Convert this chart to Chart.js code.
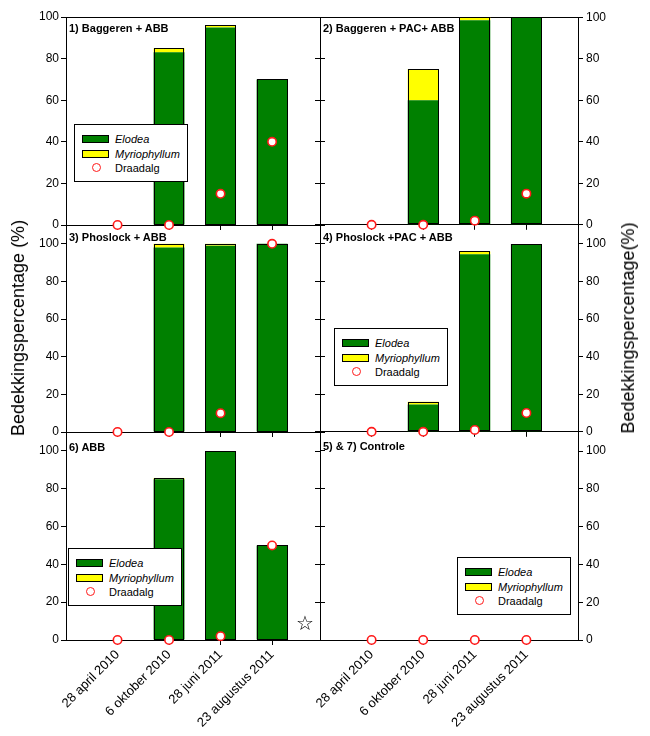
<!DOCTYPE html>
<html>
<head>
<meta charset="utf-8">
<script src="https://cdn.jsdelivr.net/npm/chart.js@4.4.1/dist/chart.umd.min.js"></script>
<style>
html, body { margin:0; padding:0; background:#fff; }
body { width:650px; height:736px; position:relative; overflow:hidden; font-family:"Liberation Sans", Arial, sans-serif; }
canvas { position:absolute; }
.ptitle { position:absolute; font-weight:bold; font-size:11px; line-height:12px; color:#000; white-space:nowrap; }
.legend { position:absolute; border:1px solid #000; background:#fff; box-sizing:border-box; }
.legend .sw { position:absolute; width:27px; height:8px; border:1px solid #000; box-sizing:border-box; }
.legend .dot { position:absolute; width:9px; height:9px; border-radius:50%; border:1.5px solid; box-sizing:border-box; background:#fff; }
.legend .lt { position:absolute; font-size:11px; line-height:12px; color:#000; white-space:nowrap; }
.ytitle { position:absolute; font-size:18px; line-height:20px; color:#000; white-space:nowrap; transform:translate(-50%,-50%) rotate(-90deg); }
.star { position:absolute; font-family:"DejaVu Sans"; font-size:20px; line-height:20px; color:#000; transform:translate(-50%,-50%); }
</style>
</head>
<body>
<script>
// ---------------- data ----------------
const dates = ["28 april 2010", "6 oktober 2010", "28 juni 2011", "23 augustus 2011"];
const xPos = [1, 2, 3, 4];
const yTicks = [0, 20, 40, 60, 80, 100];
const seriesNames = ["Elodea", "Myriophyllum", "Draadalg"];

const title1 = "1) Baggeren + ABB";
const elodea1 = [0, 83, 95, 70];
const myrio1  = [0, 2, 1, 0];
const draad1  = [0, 0, 15, 40];

const title2 = "2) Baggeren + PAC+ ABB";
const elodea2 = [0, 60, 98.5, 100];
const myrio2  = [0, 15, 1.5, 0];
const draad2  = [0, 0, 2, 15];

const title3 = "3) Phoslock + ABB";
const elodea3 = [0, 98, 99, 100];
const myrio3  = [0, 2, 1, 0];
const draad3  = [0, 0, 10, 100];

const title4 = "4) Phoslock +PAC + ABB";
const elodea4 = [0, 14.5, 94.5, 100];
const myrio4  = [0, 1.5, 1.5, 0];
const draad4  = [0, 0, 1, 10];

const title6 = "6) ABB";
const elodea6 = [0, 85, 100, 50];
const myrio6  = [0, 0.7, 0, 0];
const draad6  = [0, 0, 2, 50];

const title57 = "5) & 7) Controle";
const elodea57 = [0, 0, 0, 0];
const myrio57  = [0, 0, 0, 0];
const draad57  = [0, 0, 0, 0];

const yMaxByRow = [100, 110, 110];
const yTitleLeft = "Bedekkingspercentage (%)";
const yTitleRight = "Bedekkingspercentage(%)";

// ---------------- styles ----------------
const GREEN = "#008000";
const YELLOW = "#FFFF00";
const RED = "#FF1A1A";
const FAMILY = "'Liberation Sans', Arial, sans-serif";

const panels = [
  { col:0, row:0, title:title1,  el:elodea1,  my:myrio1,  dr:draad1,  legend:[74,124],  tOff:11 },
  { col:1, row:0, title:title2,  el:elodea2,  my:myrio2,  dr:draad2,  legend:null,      tOff:11 },
  { col:0, row:1, title:title3,  el:elodea3,  my:myrio3,  dr:draad3,  legend:null,      tOff:11.5 },
  { col:1, row:1, title:title4,  el:elodea4,  my:myrio4,  dr:draad4,  legend:[334,328], tOff:11.5 },
  { col:0, row:2, title:title6,  el:elodea6,  my:myrio6,  dr:draad6,  legend:[68,548],  tOff:14.5 },
  { col:1, row:2, title:title57, el:elodea57, my:myrio57, dr:draad57, legend:[457,557], tOff:14 }
];

const rowTop    = [17, 225, 432];
const rowBottom = [225, 432, 640];
const colLeft   = [66, 320];
const colRight  = [320, 578];

// crisp black outline around each bar stack, from the bar elements laid out by Chart.js,
// drawn just before the Draadalg points so the points stay on top
const crispStackBorders = {
  id: 'crispStackBorders',
  beforeDatasetDraw(chart, args) {
    if (args.meta.type !== 'scatter') return;
    const barMetas = chart.getSortedVisibleDatasetMetas().filter(m => m.type === 'bar');
    if (!barMetas.length) return;
    const n = barMetas[0].data.length;
    const ctx = chart.ctx;
    ctx.save();
    ctx.strokeStyle = '#000';
    ctx.lineWidth = 1;
    for (let i = 0; i < n; i++) {
      let top = Infinity, bottom = -Infinity, cx = 0, w = 0;
      barMetas.forEach(m => {
        const el = m.data[i];
        if (!el) return;
        const { x, y, base, width } = el.getProps(['x', 'y', 'base', 'width'], true);
        if (Math.abs(base - y) < 0.01) return;
        top = Math.min(top, y, base);
        bottom = Math.max(bottom, y, base);
        cx = x; w = width;
      });
      if (!(bottom - top >= 0.5)) continue;
      const l = Math.round(cx - w / 2) + 0.5;
      const r = Math.round(cx + w / 2) - 0.5;
      const t = Math.round(top) + 0.5;
      const b = Math.round(bottom) - 0.5;
      ctx.strokeRect(l, t, r - l, b - t);
    }
    ctx.restore();
  }
};

function makeChart(p) {
  const canvasLeft = p.col === 0 ? 0 : 310;
  const canvasWidth = p.col === 0 ? 330 : 340;
  const canvasTop = rowTop[p.row] - 10;
  const bottomH = p.row === 2 ? 736 - rowBottom[p.row] : 10;
  const canvasHeight = 10 + (rowBottom[p.row] - rowTop[p.row]) + bottomH;
  const leftW = colLeft[p.col] - canvasLeft;
  const rightW = canvasLeft + canvasWidth - colRight[p.col];
  const xMax = p.col === 0 ? 4.93 : 5;
  const yMax = yMaxByRow[p.row];

  const c = document.createElement('canvas');
  c.width = canvasWidth; c.height = canvasHeight;
  c.style.left = canvasLeft + 'px'; c.style.top = canvasTop + 'px';
  c.style.width = canvasWidth + 'px'; c.style.height = canvasHeight + 'px';
  document.body.appendChild(c);

  const gridOpts = { display:true, drawOnChartArea:false, drawTicks:true, tickLength:5, color:'#000', lineWidth:1, offset:false };
  const borderOpts = { display:true, color:'#000', width:1 };
  const tickFont = { family: FAMILY, size: 12 };

  new Chart(c, {
    type: 'bar',
    plugins: [crispStackBorders],
    data: {
      datasets: [
        { type:'scatter', label:seriesNames[2], data: xPos.map((x,i)=>({x:x, y:p.dr[i]})),
          pointStyle:'circle', pointRadius:4.2, pointBorderWidth:1.6,
          pointBackgroundColor:'#fff', pointBorderColor:RED, clip:false, order:0 },
        { label:seriesNames[0], data: xPos.map((x,i)=>({x:x, y:p.el[i]})),
          backgroundColor:GREEN, borderWidth:0, inflateAmount:0,
          barPercentage:1, categoryPercentage:0.6, order:1 },
        { label:seriesNames[1], data: xPos.map((x,i)=>({x:x, y:p.my[i]})),
          backgroundColor:YELLOW, borderWidth:0, inflateAmount:0,
          barPercentage:1, categoryPercentage:0.6, order:1 }
      ]
    },
    options: {
      responsive:false, animation:false, events:[],
      devicePixelRatio:1,
      layout:{ padding:0 },
      plugins:{ legend:{display:false}, tooltip:{enabled:false}, title:{display:false} },
      scales:{
        x:{ type:'linear', position:'bottom', min:0, max:xMax, stacked:true, offset:false,
            afterBuildTicks:s=>{ s.ticks = xPos.map(v=>({value:v})); },
            afterFit:s=>{ s.height = bottomH; },
            grid:gridOpts, border:borderOpts,
            ticks:{ display:p.row===2, autoSkip:false, minRotation:45, maxRotation:45,
                    font:{family:FAMILY, size:13}, color:'#000', padding:2,
                    callback:(v,i)=>dates[i] } },
        x2:{ type:'linear', position:'top', min:0, max:xMax, offset:false,
             afterFit:s=>{ s.height = 10; },
             grid:{display:false, offset:false}, border:{display:p.row===0, color:'#000', width:1},
             ticks:{display:false} },
        y:{ type:'linear', position:'left', min:0, max:yMax, stacked:true,
            afterBuildTicks:s=>{ s.ticks = yTicks.map(v=>({value:v})); },
            afterFit:s=>{ s.width = leftW; },
            grid:gridOpts, border:borderOpts,
            ticks:{ display:p.col===0, font:tickFont, color:'#000', padding:2 } },
        y2:{ type:'linear', position:'right', min:0, max:yMax,
             afterBuildTicks:s=>{ s.ticks = yTicks.map(v=>({value:v})); },
             afterFit:s=>{ s.width = rightW; },
             grid:gridOpts, border:borderOpts,
             ticks:{ display:p.col===1, font:tickFont, color:'#000', padding:3 } }
      }
    }
  });
}

[4,5,2,3,0,1].forEach(i => makeChart(panels[i]));

panels.forEach(p => {
  const d = document.createElement('div');
  d.className = 'ptitle';
  d.textContent = p.title;
  d.style.left = (colLeft[p.col] + 3) + 'px';
  d.style.top = (rowTop[p.row] + p.tOff - 6) + 'px';
  document.body.appendChild(d);
});

panels.forEach(p => {
  if (!p.legend) return;
  const box = document.createElement('div');
  box.className = 'legend';
  box.style.left = p.legend[0] + 'px';
  box.style.top = p.legend[1] + 'px';
  box.style.width = '114px';
  box.style.height = '58px';
  const rows = [14, 29, 43];
  const swCols = [GREEN, YELLOW];
  for (let k = 0; k < 3; k++) {
    if (k < 2) {
      const sw = document.createElement('div');
      sw.className = 'sw';
      sw.style.left = '7px';
      sw.style.top = (rows[k] - 4.5) + 'px';
      sw.style.background = swCols[k];
      box.appendChild(sw);
    } else {
      const dot = document.createElement('div');
      dot.className = 'dot';
      dot.style.left = (21 - 4.5) + 'px';
      dot.style.top = (rows[k] - 5) + 'px';
      dot.style.borderColor = RED;
      box.appendChild(dot);
    }
    const t = document.createElement('div');
    t.className = 'lt';
    t.style.left = '40px';
    t.style.top = (rows[k] - 6.5) + 'px';
    if (k < 2) { const it = document.createElement('i'); it.textContent = seriesNames[k]; t.appendChild(it); }
    else t.textContent = seriesNames[k];
    box.appendChild(t);
  }
  document.body.appendChild(box);
});

const tl = document.createElement('div');
tl.className = 'ytitle'; tl.textContent = yTitleLeft;
tl.style.left = '18px'; tl.style.top = '328px';
document.body.appendChild(tl);
const tr = document.createElement('div');
tr.className = 'ytitle'; tr.textContent = yTitleRight;
tr.style.left = '628px'; tr.style.top = '328px';
document.body.appendChild(tr);

const st = document.createElement('div');
st.className = 'star'; st.textContent = '\u2606';
st.style.left = '305px'; st.style.top = '623px';
document.body.appendChild(st);
</script>
</body>
</html>
